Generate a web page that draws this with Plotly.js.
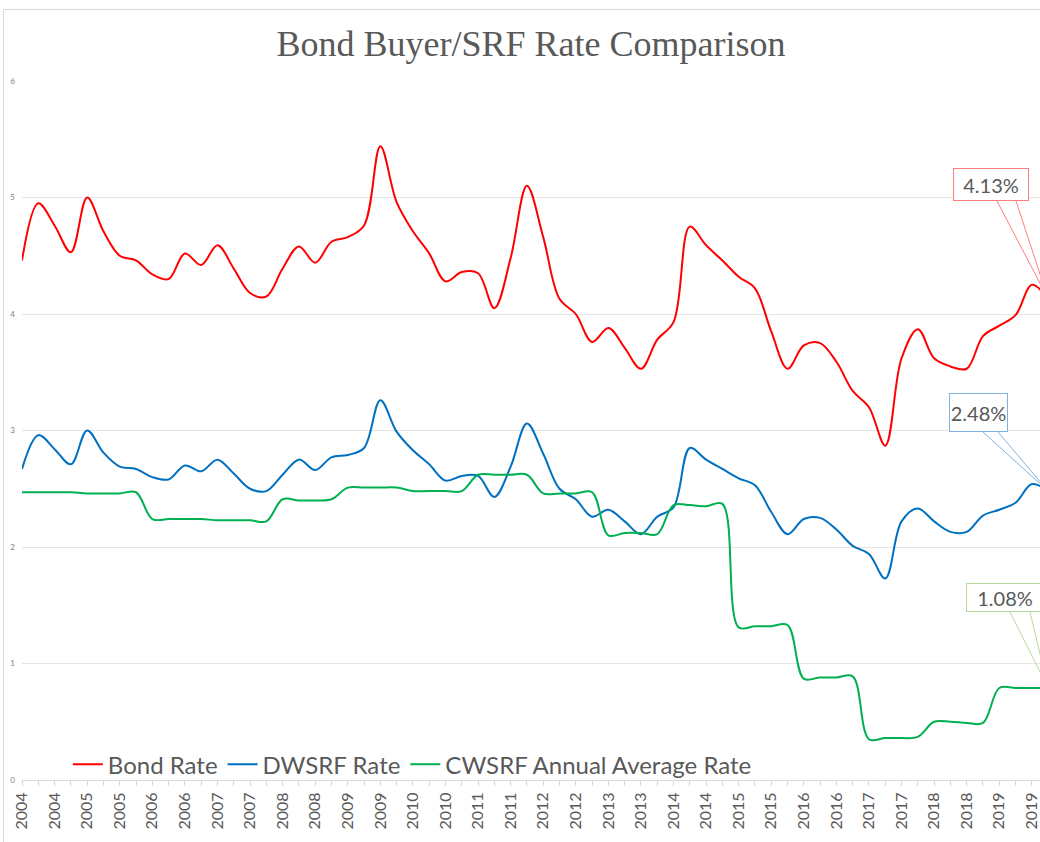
<!DOCTYPE html>
<html>
<head>
<meta charset="utf-8">
<script src="https://cdn.plot.ly/plotly-3.0.1.min.js"></script>
<style>
html,body{margin:0;padding:0;background:#fff;overflow:hidden;}
#frame{position:absolute;left:3px;top:9px;width:1037px;height:833px;border-left:1px solid #d9d9d9;border-top:1px solid #d9d9d9;}
#chart{position:absolute;left:0;top:0;width:1040px;height:842px;}
</style>
</head>
<body>
<div id="frame"></div>
<div id="chart"></div>
<script>
// ---- DATA ----
const years = [2004,2005,2006,2007,2008,2009,2010,2011,2012,2013,2014,2015,2016,2017,2018,2019];
const quarterNames = ['Q1','Q2','Q3','Q4'];

// x-axis labels shown on every second quarter
const tickLabels = ['2004','2004','2005','2005','2006','2006','2007','2007',
  '2008','2008','2009','2009','2010','2010','2011','2011',
  '2012','2012','2013','2013','2014','2014','2015','2015',
  '2016','2016','2017','2017','2018','2018','2019','2019'];

const bondRate = [4.46,4.95,4.76,4.53,5.00,4.71,4.50,4.46,4.34,4.30,4.52,4.42,4.59,4.39,4.18,4.15,
  4.39,4.58,4.44,4.62,4.66,4.76,5.44,4.96,4.71,4.52,4.28,4.36,4.35,4.05,4.48,5.10,
  4.66,4.13,4.00,3.76,3.88,3.71,3.53,3.78,3.93,4.75,4.59,4.46,4.32,4.22,3.85,3.53,
  3.73,3.75,3.59,3.34,3.20,2.87,3.62,3.87,3.62,3.55,3.53,3.81,3.90,3.99,4.25,4.13];

const dwsrfRate = [2.67,2.96,2.84,2.71,3.00,2.81,2.69,2.67,2.60,2.58,2.70,2.65,2.75,2.63,2.50,2.48,
  2.62,2.75,2.66,2.77,2.79,2.85,3.26,2.99,2.83,2.71,2.57,2.61,2.61,2.43,2.69,3.06,
  2.80,2.50,2.41,2.26,2.32,2.22,2.11,2.26,2.34,2.85,2.75,2.67,2.59,2.53,2.30,2.11,
  2.24,2.25,2.15,2.01,1.94,1.73,2.22,2.33,2.22,2.13,2.13,2.27,2.32,2.38,2.54,2.48];

const cwsrfRate = [2.47,2.47,2.47,2.47,2.46,2.46,2.46,2.47,2.24,2.24,2.24,2.24,2.23,2.23,2.23,2.22,
  2.41,2.40,2.40,2.41,2.51,2.51,2.51,2.51,2.48,2.48,2.48,2.48,2.62,2.62,2.62,2.62,
  2.46,2.46,2.46,2.47,2.10,2.12,2.12,2.11,2.36,2.36,2.35,2.37,1.31,1.32,1.32,1.33,
  0.87,0.88,0.88,0.89,0.35,0.36,0.36,0.37,0.50,0.50,0.49,0.49,0.79,0.79,0.79,0.79];

const calloutLabels = ['4.13%','2.48%','1.08%'];

// ---- BUILD ----
const periods = [];
years.forEach(y => quarterNames.forEach(q => periods.push(y + ' ' + q)));
const tickText = periods.map((p, i) => (i % 2 === 0 ? tickLabels[i / 2] : ''));
const lastIdx = periods.length - 1;

const FONT = 'Lato, "Open Sans", sans-serif';
const GREY = '#595959';

function line(name, y, color) {
  return {
    type: 'scatter', mode: 'lines', name: name, x: periods, y: y,
    line: {color: color, width: 2, shape: 'spline', smoothing: 1},
    hoverinfo: 'x+y+name'
  };
}

const traces = [
  line('Bond Rate', bondRate, '#FF0000'),
  line('DWSRF Rate', dwsrfRate, '#0070C0'),
  line('CWSRF Annual Average Rate', cwsrfRate, '#00B050')
];

// plot-area geometry used to place callout boxes (layout only)
const PL = 22, PR = 1040, PB = 780, PT = 81;
const XMAX = 62.5;
const pxX = px => (px - PL) / (PR - PL) * XMAX;
const pxY = py => (PB - py) / (PB - PT) * 6;

const callouts = [
  {label: calloutLabels[0], series: bondRate, color: '#FF7C80', left: 953, right: 1029, top: 168, bottom: 201, w1: 997, w2: 1016, pad: 0},
  {label: calloutLabels[1], series: dwsrfRate, color: '#7FB2E0', left: 949, right: 1008, top: 393, bottom: 432, w1: 983, w2: 998, pad: 0},
  {label: calloutLabels[2], series: cwsrfRate, color: '#B5DB9C', left: 966, right: 1062, top: 583, bottom: 612, w1: 1010, w2: 1030, pad: 11}
];

const annotations = [];
const shapes = [];
callouts.forEach(c => {
  annotations.push({
    xref: 'x', yref: 'y',
    x: pxX(c.left), y: pxY((c.top + c.bottom) / 2),
    xanchor: 'left', yanchor: 'middle',
    text: (c.pad ? '&nbsp;&nbsp;' : '') + c.label, showarrow: false,
    width: c.right - c.left - 2, height: c.bottom - c.top - 2,
    align: c.pad ? 'left' : 'center',
    borderpad: 0, borderwidth: 1, bordercolor: c.color, bgcolor: '#ffffff',
    font: {family: FONT, size: 20, color: GREY}
  });
  const tipY = c.series[lastIdx];
  shapes.push({
    type: 'path', xref: 'x', yref: 'y',
    path: 'M ' + pxX(c.w1) + ' ' + pxY(c.bottom) + ' L ' + lastIdx + ' ' + tipY + ' L ' + pxX(c.w2) + ' ' + pxY(c.bottom),
    line: {color: c.color, width: 1}
  });
});

const layout = {
  width: 1040, height: 842,
  margin: {l: PL, r: 1040 - PR, t: PT, b: 842 - PB, pad: 0},
  paper_bgcolor: 'rgba(0,0,0,0)', plot_bgcolor: '#ffffff',
  title: {
    text: 'Bond Buyer/SRF Rate Comparison',
    font: {family: '"Liberation Serif", "Times New Roman", serif', size: 36, color: GREY},
    x: 0.5, xref: 'paper', xanchor: 'center',
    y: 1 - 43 / 842, yref: 'container', yanchor: 'middle'
  },
  xaxis: {
    type: 'category', range: [0, XMAX],
    tickmode: 'array', tickvals: periods, ticktext: tickText,
    tickangle: -90, tickfont: {family: FONT, size: 16, color: GREY},
    showline: true, linecolor: '#d9d9d9', linewidth: 1,
    ticks: 'outside', ticklen: 5, tickcolor: '#d9d9d9',
    showgrid: false, zeroline: false, fixedrange: true
  },
  yaxis: {
    range: [0, 6], dtick: 1, tick0: 0,
    tickfont: {family: FONT, size: 8, color: '#7f7f7f'},
    ticklabelstandoff: 6,
    gridcolor: '#e5e5e5', gridwidth: 1,
    showline: false, zeroline: false, ticks: '', fixedrange: true
  },
  legend: {
    orientation: 'h', x: 0.045, xanchor: 'left', y: 0.022, yanchor: 'middle',
    font: {family: FONT, size: 24, color: GREY},
    bgcolor: 'rgba(0,0,0,0)', itemwidth: 30
  },
  showlegend: true,
  annotations: annotations,
  shapes: shapes
};

Plotly.newPlot('chart', traces, layout, {displayModeBar: false});
</script>
</body>
</html>
